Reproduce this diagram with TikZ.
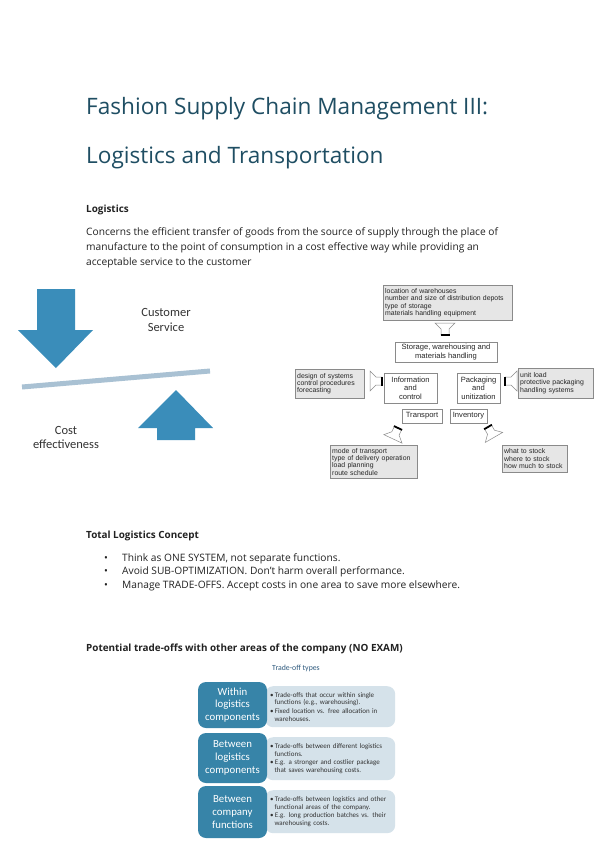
\documentclass[tikz,border=0pt]{standalone}
\usepackage{fontspec}
\setmainfont{Open Sans}
\newfontfamily\difont{Liberation Sans}
\newfontfamily\cafont{Carlito}
\definecolor{titlec}{HTML}{1F4E63}
\definecolor{bodyc}{HTML}{222222}
\definecolor{arrowc}{HTML}{3A8DBA}
\definecolor{barc}{HTML}{A9C1D3}
\definecolor{darkbox}{HTML}{3784A8}
\definecolor{lightbox}{HTML}{D5E2EA}
\definecolor{typec}{HTML}{2E5A7E}
\definecolor{boxline}{HTML}{8A8A8A}
\definecolor{boxfill}{HTML}{E6E6E6}
\tikzset{
  txt/.style={anchor=base west, inner sep=0pt, text=bodyc},
  bodyfont/.style={font=\fontsize{10.2}{12}\selectfont},
  headfont/.style={font=\bfseries\fontsize{9.9}{11}\selectfont},
  graybox/.style={draw=boxline, fill=boxfill, anchor=north west, align=left, inner sep=2pt,
    font=\difont\fontsize{6.9}{7.3}\selectfont, text=black!85},
  whitebox/.style={draw=boxline, fill=white, align=center, inner sep=1pt,
    font=\difont\fontsize{7.6}{8.6}\selectfont, text=black!85},
  darkrow/.style={fill=darkbox, rounded corners=8pt, text=white, align=center,
    font=\cafont\fontsize{10.8}{12.8}\selectfont},
  lightrow/.style={fill=lightbox, rounded corners=8pt, anchor=north west, align=left,
    font=\cafont\fontsize{7}{7.6}\selectfont, text=black!80},
  harrow/.pic={
    \draw[fill=white, draw=boxline, line width=0.5pt] (-4,0) -- (-4,-6) -- (-10,-12) -- (10,-12) -- (4,-6) -- (4,0) -- cycle;
    \draw[line width=1.8pt, black] (-4.5,0) -- (4.5,0);
  }
}
\newcommand{\tbul}[1]{\hyphenpenalty=10000\relax\exhyphenpenalty=10000\relax\hangindent=1.3ex\relax\hangafter=1\relax\noindent\textbullet\,#1\par}
\newcommand{\tgap}{\vskip 1pt\relax}
\begin{document}
\begin{tikzpicture}[x=1pt,y=-1pt]
\useasboundingbox[fill=white] (0,0) rectangle (599,848);

% Title
\node[txt, text=titlec, font=\fontsize{22.6}{26}\selectfont] (t1) at (86,114) {Fashion Supply Chain Management III:};
\node[txt, text=titlec, font=\fontsize{22.6}{26}\selectfont] (t2) at (86,163) {Logistics and Transportation};

% Logistics
\node[txt, headfont] (h1) at (86,212) {Logistics};
\node[txt, bodyfont] (p1) at (86,235) {Concerns the efficient transfer of goods from the source of supply through the place of};
\node[txt, bodyfont] (p2) at (86,250) {manufacture to the point of consumption in a cost effective way while providing an};
\node[txt, bodyfont] (p3) at (86,265) {acceptable service to the customer};

% Left figure: seesaw
\fill[arrowc] (37,289) -- (75,289) -- (75,330) -- (93,330) -- (56,368) -- (18,330) -- (37,330) -- cycle;
\fill[arrowc] (157,440) -- (157,428) -- (138,428) -- (176,390) -- (213,428) -- (195,428) -- (195,440) -- cycle;
\draw[barc, line width=5pt] (22,387) -- (210,371);
\node[inner sep=0pt, align=center, text=black!80, font=\cafont\fontsize{12.5}{15}\selectfont] (cs) at (166,320) {Customer\\Service};
\node[inner sep=0pt, align=center, text=black!80, font=\cafont\fontsize{12.5}{14}\selectfont] (ce) at (66,437) {Cost\\effectiveness};

% Right figure: logistics components
\node[graybox, text width=125pt, minimum height=35pt] (loc) at (383,285)
  {location of warehouses\\number and size of distribution depots\\type of storage\\materials handling equipment};
\node[whitebox, minimum width=102pt, minimum height=20pt] (stor) at (446,352) {Storage, warehousing and\\materials handling};
\node[whitebox, minimum width=53pt, minimum height=30pt] (info) at (410.5,388) {Information\\and\\control};
\node[whitebox, minimum width=43pt, minimum height=30pt] (pack) at (478.5,388) {Packaging\\and\\unitization};
\node[whitebox, minimum width=40pt, minimum height=14pt] (trans) at (422,416) {Transport};
\node[whitebox, minimum width=37pt, minimum height=14pt] (inv) at (468.5,416) {Inventory};
\node[graybox, text width=65pt, minimum height=29pt] (des) at (295,369)
  {design of systems\\control procedures\\forecasting};
\node[graybox, text width=71pt, minimum height=30pt] (unit) at (518,368)
  {unit load\\protective packaging\\handling systems};
\node[graybox, text width=83pt, minimum height=33pt] (mode) at (330,445)
  {mode of transport\\type of delivery operation\\load planning\\route schedule};
\node[graybox, text width=61pt, minimum height=27pt] (what) at (502,445)
  {what to stock\\where to stock\\how much to stock};
% hollow arrows
\pic at (445,335) {harrow};
\pic[rotate=90] at (382,381) {harrow};
\pic[rotate=-90] at (505,381) {harrow};
\pic[rotate=155] at (398,428) {harrow};
\pic[rotate=-150] at (488,427) {harrow};

% Total Logistics Concept
\node[txt, headfont] (h2) at (86,538) {Total Logistics Concept};
\foreach \yy/\tt [count=\i] in {561/{Think as ONE SYSTEM, not separate functions.},
    574.5/{Avoid SUB-OPTIMIZATION. Don't harm overall performance.},
    588/{Manage TRADE-OFFS. Accept costs in one area to save more elsewhere.}} {
  \node[txt, bodyfont] (bd\i) at (104,\yy) {\textbullet};
  \node[txt, bodyfont] (b\i) at (122,\yy) {\tt};
}

% Potential trade-offs
\node[txt, headfont] (h3) at (86,651) {Potential trade-offs with other areas of the company (NO EXAM)};
\node[inner sep=0pt, text=typec, font=\cafont\fontsize{7.8}{9}\selectfont] (types) at (296,668) {Trade-off types};

\node[lightrow, minimum width=130pt, minimum height=41pt, text width=120pt] (l1) at (265,686)
  {\tbul{Trade-offs that occur within single functions (e.g., warehousing).}\tgap\tbul{Fixed location vs. free allocation in warehouses.}};
\node[lightrow, minimum width=130pt, minimum height=43pt, text width=120pt] (l2) at (265,737)
  {\tbul{Trade-offs between different logistics functions.}\tgap\tbul{E.g. a stronger and costlier package that saves warehousing costs.}};
\node[lightrow, minimum width=130pt, minimum height=43pt, text width=120pt] (l3) at (265,790)
  {\tbul{Trade-offs between logistics and other functional areas of the company.}\tgap\tbul{E.g. long production batches vs. their warehousing costs.}};

\node[darkrow, minimum width=69pt, minimum height=46pt] (d1) at (232.5,705) {Within\\logistics\\components};
\node[darkrow, minimum width=69pt, minimum height=50pt] (d2) at (232.5,758) {Between\\logistics\\components};
\node[darkrow, minimum width=69pt, minimum height=52pt] (d3) at (232.5,812) {Between\\company\\functions};
\end{tikzpicture}
\end{document}
